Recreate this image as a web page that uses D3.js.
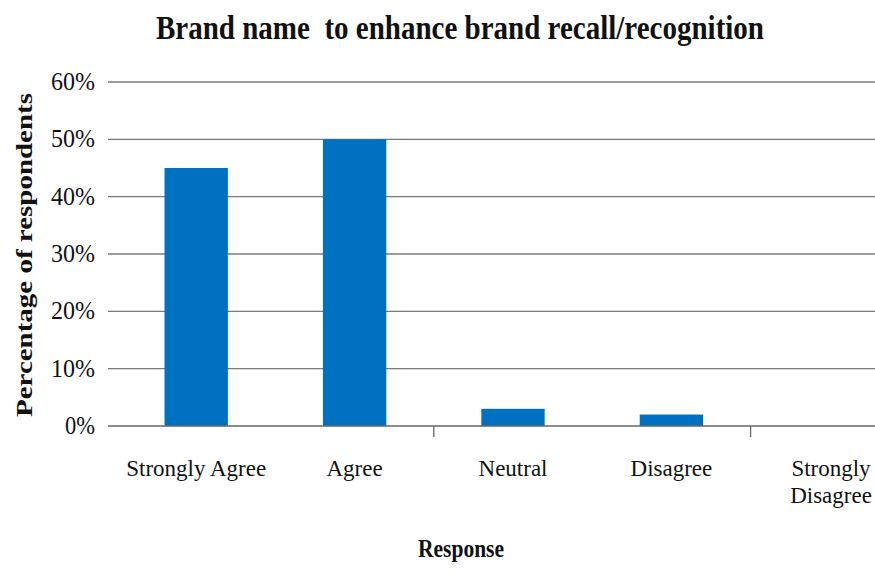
<!DOCTYPE html>
<html>
<head>
<meta charset="utf-8">
<script src="https://cdn.jsdelivr.net/npm/d3@7"></script>
<style>
  html, body { margin: 0; padding: 0; background: #fff; }
  svg { display: block; overflow: hidden; }
  text { font-family: "Liberation Serif", "Times New Roman", serif; fill: #111; }
</style>
</head>
<body>
<script>
// Survey responses: share of respondents per answer
const categories = ["Strongly Agree", "Agree", "Neutral", "Disagree", "Strongly Disagree"];
const shares = [0.45, 0.50, 0.03, 0.02, 0.00];
const yTicks = [0, 0.1, 0.2, 0.3, 0.4, 0.5, 0.6];
const yTickLabels = ["0%", "10%", "20%", "30%", "40%", "50%", "60%"];
const titleText = "Brand name  to enhance brand recall/recognition";
const yTitle = "Percentage of respondents";
const xTitle = "Response";

const W = 875, H = 578;
const plot = { left: 117, right: 909, top: 82, bottom: 426 };

const svg = d3.select("body").append("svg").attr("width", W).attr("height", H);

const x = d3.scaleBand()
  .domain(categories)
  .range([plot.left, plot.right])
  .paddingInner(0.6)
  .paddingOuter(0.3);
const step = x.step();

const y = d3.scaleLinear().domain([0, 0.6]).range([plot.bottom, plot.top]);

// Horizontal gridlines, extended left as outside tick marks
svg.append("g").selectAll("line").data(yTicks.slice(1)).join("line")
  .attr("x1", plot.left - 9).attr("x2", plot.right)
  .attr("y1", d => y(d)).attr("y2", d => y(d))
  .attr("stroke", "#7a7a7a").attr("stroke-width", 1.3);

// Y tick labels
svg.append("g").selectAll("text").data(yTicks).join("text")
  .attr("x", 95).attr("y", d => y(d) + 8)
  .attr("text-anchor", "end")
  .attr("font-size", 25)
  .attr("textLength", (d, i) => yTickLabels[i].length === 2 ? 30 : 44)
  .attr("lengthAdjust", "spacingAndGlyphs")
  .text((d, i) => yTickLabels[i]);

// Bars
svg.append("g").selectAll("rect").data(categories).join("rect")
  .attr("x", d => x(d))
  .attr("width", x.bandwidth())
  .attr("y", (d, i) => y(shares[i]))
  .attr("height", (d, i) => y(0) - y(shares[i]))
  .attr("fill", "#0070C0");

// Category axis line with a tick after every second category
svg.append("line")
  .attr("x1", plot.left - 9).attr("x2", plot.right)
  .attr("y1", y(0)).attr("y2", y(0))
  .attr("stroke", "#666").attr("stroke-width", 1.3);
const tickCats = categories.filter((d, i) => i > 0 && i % 2 === 0);
svg.append("g").selectAll("line").data(tickCats).join("line")
  .attr("x1", d => x(d) + x.bandwidth() / 2 - step / 2)
  .attr("x2", d => x(d) + x.bandwidth() / 2 - step / 2)
  .attr("y1", y(0)).attr("y2", y(0) + 11)
  .attr("stroke", "#666").attr("stroke-width", 1.3);

// Category labels (the last one wraps onto two lines at the chart edge)
const labelG = svg.append("g");
categories.forEach((c, i) => {
  const cx = x(c) + x.bandwidth() / 2;
  const wrap = c === "Strongly Disagree";
  const lines = wrap ? c.split(" ") : [c];
  const xpos = wrap ? 831 : cx;
  const t = labelG.append("text")
    .attr("x", xpos).attr("y", 476)
    .attr("text-anchor", "middle")
    .attr("font-size", 23);
  lines.forEach((l, j) => {
    t.append("tspan").attr("x", xpos).attr("dy", j === 0 ? 0 : 27).text(l);
  });
});

// Title (keeps its double space)
svg.append("text")
  .attr("x", 460).attr("y", 39)
  .attr("text-anchor", "middle")
  .attr("xml:space", "preserve")
  .style("white-space", "pre")
  .attr("font-size", 34).attr("font-weight", "bold")
  .attr("textLength", 608).attr("lengthAdjust", "spacingAndGlyphs")
  .text(titleText);

// Axis titles
svg.append("text")
  .attr("transform", "translate(32,255) rotate(-90)")
  .attr("text-anchor", "middle")
  .attr("font-size", 24).attr("font-weight", "bold")
  .attr("textLength", 324).attr("lengthAdjust", "spacingAndGlyphs")
  .text(yTitle);

svg.append("text")
  .attr("x", 461).attr("y", 557)
  .attr("text-anchor", "middle")
  .attr("font-size", 26).attr("font-weight", "bold")
  .attr("textLength", 86).attr("lengthAdjust", "spacingAndGlyphs")
  .text(xTitle);
</script>
</body>
</html>
